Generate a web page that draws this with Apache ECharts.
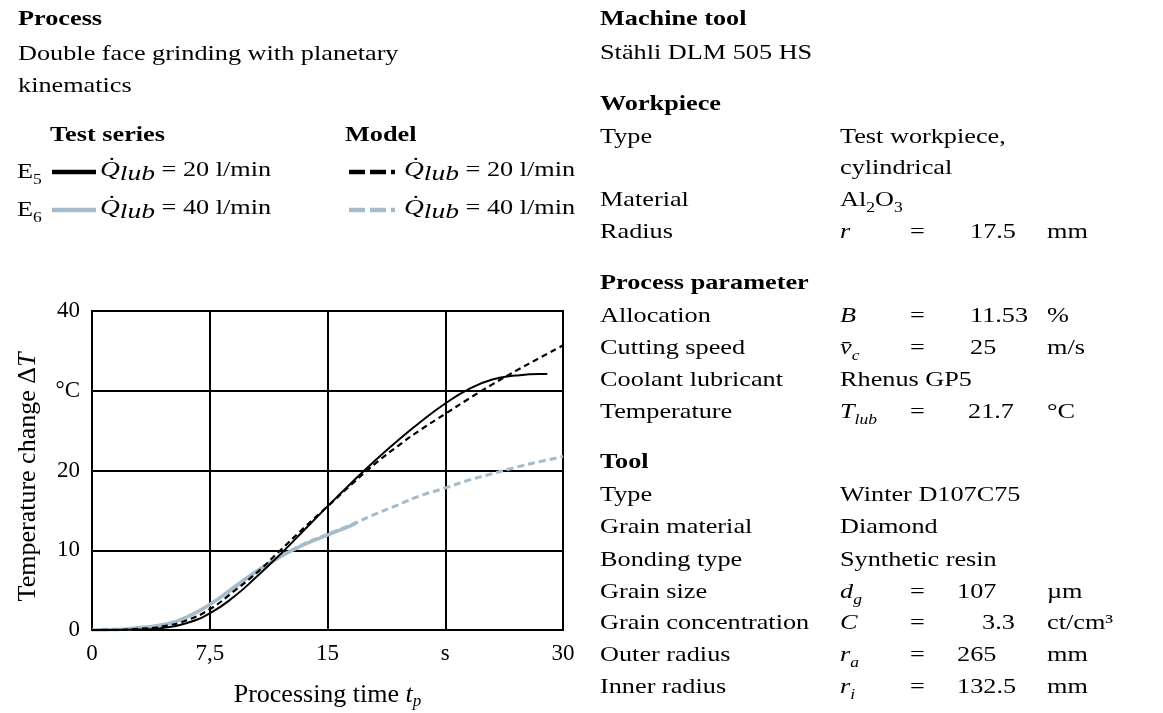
<!DOCTYPE html>
<html><head><meta charset="utf-8">
<script src="https://cdn.jsdelivr.net/npm/echarts@6/dist/echarts.min.js"></script>
<style>html,body{margin:0;padding:0;background:#fff}#c{width:1163px;height:713px}</style>
</head><body><div id="c"></div>
<script>
// ---------- chart data ----------
const xTicks = [0, 7.5, 15, 22.5, 30];
const xTickLabels = ['0', '7,5', '15', 's', '30'];
const yTicks = [0, 10, 20, 30, 40];
const yTickLabels = ['0', '10', '20', '°C', '40'];

const tTest20 = [0, 1.5, 3, 4.5, 6, 7.5, 9, 10.5, 12, 13.5, 15, 16.5, 18, 19.5, 21, 22.5, 24, 25.5, 27, 28.5, 29];
const vTest20 = [0, 0, 0.05, 0.25, 0.85, 2.1, 4.1, 6.7, 9.5, 12.5, 15.5, 18.4, 21.2, 23.8, 26.2, 28.4, 30.2, 31.4, 31.9, 32.1, 32.1];

const tTest40 = [0, 1.5, 3, 4.5, 6, 7.5, 9, 10.5, 12, 13.5, 15, 16.5, 16.9];
const vTest40 = [0, 0.05, 0.3, 0.65, 1.6, 3.2, 5.3, 7.4, 9.2, 10.7, 11.9, 13.1, 13.5];

const tModel = [0, 1.5, 3, 4.5, 6, 7.5, 9, 10.5, 12, 13.5, 15, 16.5, 18, 19.5, 21, 22.5, 24, 25.5, 27, 28.5, 30];
const vModel20 = [0, 0.02, 0.15, 0.45, 1.2, 2.6, 4.8, 7.2, 10.0, 12.8, 15.5, 18.2, 20.8, 23.1, 25.2, 27.1, 29.0, 30.8, 32.5, 34.1, 35.7];
const vModel40 = [0, 0.03, 0.25, 0.65, 1.6, 3.2, 5.2, 7.3, 9.2, 10.8, 12.0, 13.2, 14.5, 15.7, 16.9, 17.8, 18.8, 19.6, 20.4, 21.1, 21.75];

// ---------- text content ----------
const leftTexts = ['Process', 'Double face grinding with planetary', 'kinematics'];
const legendHeads = ['Test series', 'Model'];
const legendSeries = ['E{s|5}', 'E{s|6}'];
const legendLabels = ['{q|Q̇}{l|lub}{n| = 20 l/min}', '{q|Q̇}{l|lub}{n| = 40 l/min}'];
// [label, symbol, value, unit]; header rows start with '#'
const tableRows = [
  ['#Machine tool'], ['Stähli DLM 505 HS'],
  ['#Workpiece'], ['Type', 'Test workpiece,'], ['', 'cylindrical'], ['Material', 'Al{s|2}O{s|3}'],
  ['Radius', '{i|r}', '17.5', 'mm'],
  ['#Process parameter'], ['Allocation', '{i|B}', '11.53', '%'], ['Cutting speed', '{i|v̄}{si|c}', '25', 'm/s'],
  ['Coolant lubricant', 'Rhenus GP5'], ['Temperature', '{i|T}{si|lub}', '21.7', '°C'],
  ['#Tool'], ['Type', 'Winter D107C75'], ['Grain material', 'Diamond'], ['Bonding type', 'Synthetic resin'],
  ['Grain size', '{i|d}{si|g}', '107', 'µm'], ['Grain concentration', '{i|C}', '3.3', 'ct/cm³'],
  ['Outer radius', '{i|r}{si|a}', '265', 'mm'], ['Inner radius', '{i|r}{si|i}', '132.5', 'mm']
];

// ---------- layout ----------
const FONT = '"Liberation Serif", "Times New Roman", serif';
const SX = 1.25;
const FS = 21;
const rowY = [20, 53, 105, 137, 168, 200, 232, 284, 316, 348, 380, 412, 463, 495, 527, 560, 592, 623, 655, 687];
const valueX = [970, 970, 970, 968, 957, 982, 957, 957];

const rich = {
  n: { fontFamily: FONT, fontSize: FS, lineHeight: 30, fill: '#000' },
  b: { fontFamily: FONT, fontSize: FS, fontWeight: 'bold', lineHeight: 30, fill: '#000' },
  i: { fontFamily: FONT, fontSize: FS, fontStyle: 'italic', lineHeight: 30, fill: '#000' },
  s: { fontFamily: FONT, fontSize: 14, lineHeight: 14, verticalAlign: 'bottom', fill: '#000' },
  si: { fontFamily: FONT, fontSize: 14, fontStyle: 'italic', lineHeight: 14, verticalAlign: 'bottom', fill: '#000' },
  q: { fontFamily: FONT, fontSize: 22, fontStyle: 'italic', lineHeight: 30, fill: '#000' },
  l: { fontFamily: FONT, fontSize: 22, fontStyle: 'italic', lineHeight: 20, verticalAlign: 'bottom', fill: '#000' }
};

function wrap(t, bold) {
  if (t.indexOf('{') === 0) return t;
  const tag = bold ? 'b' : 'n';
  return t.split(/(\{[a-z]+\|[^}]*\})/).filter(s => s.length).map(s => s[0] === '{' ? s : '{' + tag + '|' + s + '}').join('');
}
function txt(x, y, t, bold) {
  return {
    type: 'text', x: x, y: y, scaleX: SX, silent: true, z: 10,
    style: { text: wrap(t, bold), rich: rich, align: 'left', verticalAlign: 'middle', fill: '#000',
             fontFamily: FONT, fontSize: FS }
  };
}
function seg(x1, x2, y, color) {
  return { type: 'line', silent: true, shape: { x1: x1, y1: y, x2: x2, y2: y }, style: { stroke: color, lineWidth: 4.5 } };
}

const graphics = [];
graphics.push(txt(18, 20, leftTexts[0], true));
graphics.push(txt(18, 54, leftTexts[1]));
graphics.push(txt(18, 86, leftTexts[2]));
graphics.push(txt(50, 136, legendHeads[0], true));
graphics.push(txt(345, 136, legendHeads[1], true));
const legY = [170, 208];
const legColors = ['#000000', '#a7bccb'];
for (let k = 0; k < 2; k++) {
  graphics.push(txt(17, legY[k] + 2, legendSeries[k]));
  graphics.push(seg(52, 96, legY[k] + 2, legColors[k]));
  graphics.push(txt(100, legY[k], legendLabels[k]));
  graphics.push(seg(349, 365, legY[k] + 2, legColors[k]));
  graphics.push(seg(370, 386, legY[k] + 2, legColors[k]));
  graphics.push(seg(391, 395, legY[k] + 2, legColors[k]));
  graphics.push(txt(404, legY[k], legendLabels[k]));
}
let vi = 0;
tableRows.forEach((r, idx) => {
  const y = rowY[idx];
  if (r[0][0] === '#') { graphics.push(txt(600, y, r[0].slice(1), true)); return; }
  if (r[0]) graphics.push(txt(600, y, r[0]));
  if (r[1]) graphics.push(txt(840, y, r[1]));
  if (r[2]) {
    graphics.push(txt(910, y, '='));
    graphics.push(txt(valueX[vi++], y, r[2]));
    graphics.push(txt(1047, y, r[3]));
  }
});

const chart = echarts.init(document.getElementById('c'), null, { renderer: 'canvas' });
const toPairs = (ts, vs) => ts.map((t, i) => [t, vs[i]]);
const lab = { fontFamily: FONT, fontSize: 23, color: '#000' };
chart.setOption({
  backgroundColor: '#fff',
  animation: false,
  grid: { left: 92, right: 600, top: 311, bottom: 83, show: true, borderColor: '#000', borderWidth: 2, outerBoundsMode: 'none', containLabel: false },
  xAxis: {
    type: 'value', min: 0, max: 30, interval: 7.5,
    axisLine: { lineStyle: { color: '#000', width: 2 } },
    axisTick: { show: false },
    splitLine: { show: true, lineStyle: { color: '#000', width: 2 } },
    axisLabel: Object.assign({ margin: 12, formatter: v => xTickLabels[xTicks.indexOf(v)] }, lab),
    name: '{n|Processing time }{i|t}{s|p}', nameLocation: 'middle', nameGap: 50,
    nameTextStyle: { fontFamily: FONT, fontSize: 26, color: '#000', rich: {
      n: { fontFamily: FONT, fontSize: 26, lineHeight: 30, color: '#000' },
      i: { fontFamily: FONT, fontSize: 26, fontStyle: 'italic', lineHeight: 30, color: '#000' },
      s: { fontFamily: FONT, fontSize: 17, fontStyle: 'italic', lineHeight: 14, verticalAlign: 'bottom', color: '#000' } } }
  },
  yAxis: {
    type: 'value', min: 0, max: 40, interval: 10,
    axisLine: { lineStyle: { color: '#000', width: 2 } },
    axisTick: { show: false },
    splitLine: { show: true, lineStyle: { color: '#000', width: 2 } },
    axisLabel: Object.assign({ margin: 12, formatter: v => yTickLabels[yTicks.indexOf(v)] }, lab),
    name: '{n|Temperature change Δ}{i|T}', nameLocation: 'middle', nameGap: 50, nameRotate: 90,
    nameTextStyle: { fontFamily: FONT, fontSize: 26, color: '#000', padding: [0, 13, 0, 0], rich: {
      n: { fontFamily: FONT, fontSize: 26, lineHeight: 28, color: '#000' },
      i: { fontFamily: FONT, fontSize: 26, fontStyle: 'italic', lineHeight: 28, color: '#000' } } }
  },
  series: [
    { name: 'Model 40', type: 'line', data: toPairs(tModel, vModel40), showSymbol: false, smooth: 0.5,
      lineStyle: { color: '#a7bccb', width: 3, type: [7, 4] }, z: 2 },
    { name: 'E6', type: 'line', data: toPairs(tTest40, vTest40), showSymbol: false, smooth: 0.5,
      lineStyle: { color: '#a7bccb', width: 3.5 }, z: 3 },
    { name: 'Model 20', type: 'line', data: toPairs(tModel, vModel20), showSymbol: false, smooth: 0.5,
      lineStyle: { color: '#000', width: 2.2, type: [6, 4] }, z: 4 },
    { name: 'E5', type: 'line', data: toPairs(tTest20, vTest20), showSymbol: false, smooth: 0.5,
      lineStyle: { color: '#000', width: 2 }, z: 5 }
  ],
  graphic: graphics
});
</script></body></html>
